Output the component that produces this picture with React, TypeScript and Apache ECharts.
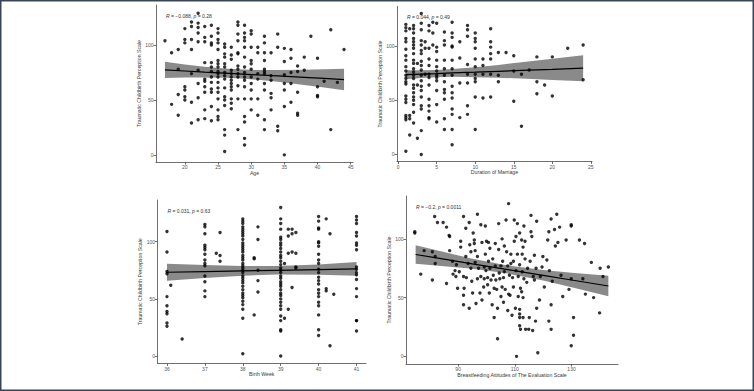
import React, { useEffect, useRef } from "react";
import * as echarts from "echarts";

const FONT = "'Liberation Sans', Arial, Helvetica, sans-serif";
const Y_NAME = "Traumatic Childbirth Perception Scale";
const scoreTicks = [0, 50, 100];

// Age (years) -> scores observed at that age
const ageColumns: [number, number[]][] = [
  [17, [104]],
  [18, [93, 46]],
  [19, [96, 78, 55, 36]],
  [20, [115, 105, 102, 62, 59, 53, 50]],
  [21, [121, 117, 105, 96, 74, 48, 29]],
  [22, [129, 120, 116, 111, 103, 77, 65, 52, 32]],
  [23, [117, 107, 103, 84, 69, 67, 62, 57, 41, 33]],
  [24, [118, 108, 102, 100, 84, 80, 76, 71, 66, 60, 57, 44, 31]],
  [25, [115, 111, 105, 102, 96, 86, 83, 80, 76, 74, 71, 66, 61, 57, 51, 41, 35, 32]],
  [26, [101, 98, 92, 89, 83, 80, 75, 72, 69, 61, 53, 50, 45, 23, 18, 3]],
  [27, [98, 91, 87, 77, 74, 71, 68, 65, 62, 59, 51, 47, 42]],
  [28, [121, 118, 110, 104, 93, 92, 81, 78, 74, 71, 63, 51, 23]],
  [29, [118, 111, 107, 104, 98, 89, 80, 75, 71, 68, 62, 51, 35, 30, 15, 9]],
  [30, [113, 110, 98, 86, 83, 78, 71, 65, 59, 51, 41]],
  [31, [98, 93, 74, 69, 51, 36]],
  [32, [108, 102, 93, 86, 78, 76, 74, 65, 59, 32, 23]],
  [33, [93, 72, 68, 56, 52, 41]],
  [34, [110, 98, 26, 22]],
  [35, [97, 85, 73, 65, 59, 44, 0]],
  [36, [96, 88, 75, 65, 48]],
  [37, [81, 76, 57, 38, 36]],
  [38, [89, 77]],
  [39, [108]],
  [40, [88, 62, 54, 53]],
  [41, [67]],
  [42, [114, 23]],
  [43, [66]],
  [44, [96]],
];

// Duration of marriage (years) -> scores
const marriageColumns: [number, number[]][] = [
  [1, [120, 117, 114, 107, 104, 97, 91, 87, 81, 77, 73, 70, 67, 65, 54, 51, 48, 36, 34, 32, 3]],
  [1.5, [116, 36, 33, 18]],
  [2, [119, 116, 112, 107, 104, 101, 98, 93, 87, 84, 79, 76, 73, 70, 64, 61, 57, 53, 50, 46, 39, 29]],
  [2.5, [84, 64, 15]],
  [3, [130, 121, 115, 105, 101, 96, 93, 86, 82, 78, 73, 68, 63, 59, 53, 45, 42, 22, 0]],
  [3.5, [104, 98, 74]],
  [4, [119, 114, 98, 88, 82, 74, 71, 64, 51, 45, 40, 34, 33]],
  [4.5, [122, 112, 101]],
  [5, [121, 99, 95, 87, 81, 77, 73, 71, 68, 59, 46, 30]],
  [6, [113, 105, 101, 87, 79, 73, 67, 60, 57, 51, 33, 23]],
  [7, [122, 112, 108, 100, 99, 87, 79, 73, 63, 57, 52, 42, 37, 23, 9]],
  [8, [104, 89, 66, 34]],
  [9, [119, 115, 109, 83, 74, 66, 45, 37]],
  [10, [112, 107, 104, 98, 88, 81, 74, 70, 67, 53, 23]],
  [11, [88, 82, 74, 52]],
  [12, [116, 104, 99, 93, 88, 74, 53]],
  [13, [94, 73, 67]],
  [14, [94]],
  [15, [91, 77, 49]],
  [16, [74, 26]],
  [17, [78]],
  [18, [90, 67, 56]],
  [19, [64]],
  [20, [90, 54]],
  [22, [98]],
  [24, [101, 69]],
];

// Birth week -> scores
const birthWeekColumns: [number, number[]][] = [
  [36, [109, 91, 74, 72, 52, 44, 39, 37, 29, 26]],
  [36.1, [62]],
  [36.4, [15]],
  [37, [115, 113, 107, 97, 95, 93, 89, 84, 81, 79, 70, 65, 57, 52]],
  [37.3, [90]],
  [37.4, [108, 88, 83]],
  [38, [120, 118, 116, 113, 111, 109, 107, 105, 102, 99, 97, 95, 93, 91, 88, 86, 84, 81, 79, 77, 75, 73, 70, 68, 66, 64, 61, 58, 55, 53, 51, 48, 45, 41, 33, 2]],
  [38.3, [86, 85, 36]],
  [38.4, [113, 102, 75, 66, 56]],
  [39, [130, 120, 116, 111, 104, 102, 99, 97, 94, 91, 88, 86, 83, 80, 77, 75, 73, 70, 68, 65, 63, 61, 58, 55, 53, 50, 47, 44, 41, 35, 31, 23, 22, 0]],
  [39.1, [81, 33]],
  [39.2, [111, 105, 90, 41]],
  [39.3, [111, 107, 91, 60]],
  [39.4, [108, 90, 78, 77]],
  [40, [122, 118, 112, 111, 100, 99, 96, 89, 84, 81, 76, 73, 69, 66, 63, 58, 55, 52, 47, 44, 36, 23, 18]],
  [40.2, [120, 59, 57]],
  [40.3, [107, 9]],
  [40.4, [54]],
  [41, [122, 119, 116, 108, 105, 99, 97, 93, 78, 76, 73, 71, 67, 59, 52, 31, 31, 22]],
];

// Breastfeeding attitude score, childbirth perception score
const breastfeedingPoints: [number, number][] = [
  [74.7, 105], [74.7, 106], [78, 90], [76.8, 70], [80.9, 89], [80.9, 65], [81.7, 119], [82.7, 114],
  [81.9, 79], [81.9, 85], [84.7, 114], [85.9, 110], [85.9, 62], [86.8, 103], [87, 102], [87, 90],
  [88, 81], [88.2, 70], [88.9, 73], [89.2, 68], [89.4, 78], [89.8, 58], [90.4, 72], [90.9, 98],
  [90.9, 93], [91.9, 119], [91.9, 68], [92.1, 58], [91.9, 52], [91.9, 44], [92.7, 85], [92.7, 109],
  [92.9, 67], [93.5, 79], [93.9, 114], [93.9, 41], [94.1, 95], [94.5, 89], [94.5, 75], [94.8, 64],
  [95.1, 54], [95.3, 105], [95.7, 99], [95.7, 96], [96, 90], [96, 80], [96.3, 45], [96.8, 121],
  [96.8, 85], [96.8, 66], [97.2, 75], [97.7, 54], [98, 112], [98, 68], [98.4, 97], [98.4, 48],
  [99, 59], [99.2, 76], [99.2, 66], [99.6, 111], [99.6, 87], [99.8, 73], [100, 98], [100.4, 67],
  [100.4, 61], [100.7, 81], [100.7, 97], [101, 54], [101.2, 92], [101.2, 75], [101.6, 65], [102, 44],
  [102.2, 83], [102.4, 69], [102.7, 33], [102.7, 58], [103.1, 96], [103.1, 77], [103.3, 65], [103.6, 57],
  [103.9, 15], [103.9, 41], [104.3, 113], [104.3, 91], [104.5, 71], [104.7, 66], [105.1, 51], [105.1, 77],
  [105.5, 100], [105.5, 59], [105.7, 81], [106, 67], [106, 46], [106.3, 94], [106.3, 72], [106.6, 57],
  [106.9, 116], [107.1, 89], [107.5, 39], [107.5, 77], [107.8, 53], [107.8, 130], [108.1, 69], [108.3, 52],
  [108.6, 79], [108.6, 87], [109, 35], [109.2, 67], [109.5, 59], [109.5, 81], [109.8, 116], [109.8, 98],
  [110.2, 41], [110.4, 102], [110.4, 73], [110.6, 0], [110.9, 113], [110.9, 87], [111.2, 51], [111.2, 68],
  [111.7, 105], [111.7, 78], [111.7, 40], [111.7, 36], [111.7, 33], [111.7, 26], [112, 23], [112, 58],
  [112.4, 55], [112.4, 99], [112.6, 87], [112.6, 72], [112.9, 93], [112.9, 50], [112.9, 33], [113.2, 111],
  [113.2, 66], [113.6, 98], [113.6, 83], [113.8, 23], [114.2, 63], [114.5, 75], [114.9, 23], [115.1, 33],
  [115.4, 81], [115.7, 106], [115.7, 120], [116, 102], [116.3, 22], [116.5, 68], [116.9, 86], [116.9, 65],
  [117.3, 30], [117.5, 75], [117.7, 41], [117.7, 115], [118.1, 3], [118.7, 48], [119, 68], [119.6, 76],
  [119.9, 85], [120.4, 59], [121.3, 82], [121.6, 99], [122, 106], [122, 30], [122.2, 73], [122.8, 117],
  [122.8, 23], [122.8, 44], [123.2, 64], [124, 108], [124.3, 94], [124.8, 121], [125.2, 97], [125.8, 110],
  [126.3, 69], [126.9, 51], [128.1, 99], [129.1, 57], [129.9, 112], [129.9, 111], [129.9, 9], [130.7, 18],
  [130.7, 33], [129.9, 66], [132.8, 99], [134, 66], [134.6, 96], [134.9, 53], [137, 80], [137.8, 50],
  [139.9, 37], [140.1, 75], [141.1, 68], [143, 76],
];

// Linear fits with 95% confidence bands
const ageFitX = [17, 20, 23, 26, 28, 31, 34, 38, 41, 44];
const ageFitY = [77.4, 76.4, 75.4, 74.5, 73.8, 72.8, 71.9, 70.6, 69.6, 68.6];
const ageFitLow = [70.1, 70.4, 70.5, 70.3, 69.8, 68.4, 66.7, 63.7, 61.3, 58.8];
const ageFitHigh = [84.8, 82.4, 80.3, 78.7, 77.9, 77.2, 77.2, 77.5, 77.9, 78.4];

const marriageFitX = [1, 3, 5, 7, 10, 13, 16, 20, 24];
const marriageFitY = [73.6, 74.1, 74.6, 75.2, 75.9, 76.7, 77.5, 78.5, 79.6];
const marriageFitLow = [69.4, 70.5, 71.2, 71.6, 71.3, 70.8, 70.0, 68.8, 67.6];
const marriageFitHigh = [77.8, 77.7, 78.0, 78.8, 80.5, 82.6, 85.0, 88.2, 91.6];

const birthWeekFitX = [36, 37, 38, 38.9, 40, 41];
const birthWeekFitY = [73.3, 73.9, 74.5, 75.0, 75.6, 76.2];
const birthWeekFitLow = [65.8, 68.2, 70.3, 71.3, 71.1, 70.2];
const birthWeekFitHigh = [80.8, 79.6, 78.7, 78.7, 80.1, 82.2];

const breastFitX = [75, 85, 95, 107, 120, 130, 143];
const breastFitY = [86.7, 82.8, 78.8, 74.1, 69.0, 65.0, 59.9];
const breastFitLow = [78.8, 76.8, 74.5, 70.7, 64.5, 58.8, 51.2];
const breastFitHigh = [94.6, 88.8, 83.1, 77.5, 73.5, 71.2, 68.6];

// Tick labels
const ageTicks = [20, 25, 30, 35, 40, 45];
const marriageTicks = [0, 5, 10, 15, 20, 25];
const birthWeekTicks = [36, 37, 38, 39, 40, 41];
const breastTicks = [90, 110, 130];

// Correlation results: [R, p]
const ageStat = ["\u22120.088", "0.28"];
const marriageStat = ["0.044", "0.49"];
const birthWeekStat = ["0.031", "0.63"];
const breastStat = ["\u22120.2", "0.0011"];

const flatten = (cols: [number, number[]][]): [number, number][] =>
  cols.flatMap(([x, ys]) => ys.map((y) => [x, y] as [number, number]));

type Panel = {
  grid: { left: number; top: number; width: number; height: number };
  xMin: number;
  xMax: number;
  xTicks: number[];
  xName: string;
  points: [number, number][];
  fitX: number[];
  fitY: number[];
  fitLow: number[];
  fitHigh: number[];
  stat: string[];
};

const panels: Panel[] = [
  {
    grid: { left: 156, top: 5, width: 197, height: 157 },
    xMin: 15.65, xMax: 45.35, xTicks: ageTicks, xName: "Age",
    points: flatten(ageColumns),
    fitX: ageFitX, fitY: ageFitY, fitLow: ageFitLow, fitHigh: ageFitHigh,
    stat: ageStat,
  },
  {
    grid: { left: 397, top: 6.5, width: 195, height: 155 },
    xMin: -0.15, xMax: 25.15, xTicks: marriageTicks, xName: "Duration of Marriage",
    points: flatten(marriageColumns),
    fitX: marriageFitX, fitY: marriageFitY, fitLow: marriageFitLow, fitHigh: marriageFitHigh,
    stat: marriageStat,
  },
  {
    grid: { left: 157.5, top: 200, width: 208.5, height: 163.5 },
    xMin: 35.75, xMax: 41.25, xTicks: birthWeekTicks, xName: "Birth Week",
    points: flatten(birthWeekColumns),
    fitX: birthWeekFitX, fitY: birthWeekFitY, fitLow: birthWeekFitLow, fitHigh: birthWeekFitHigh,
    stat: birthWeekStat,
  },
  {
    grid: { left: 406, top: 196, width: 212, height: 168 },
    xMin: 71.6, xMax: 146.4, xTicks: breastTicks, xName: "Breastfeeding Attitudes of The Evaluation Scale",
    points: breastfeedingPoints,
    fitX: breastFitX, fitY: breastFitY, fitLow: breastFitLow, fitHigh: breastFitHigh,
    stat: breastStat,
  },
];

const AXIS_COLOR = "#4a4a4a";
const LABEL_COLOR = "#555555";
const NAME_COLOR = "#3a3a3a";

function axisCommon(ticks: number[]) {
  return {
    type: "value" as const,
    splitLine: { show: false },
    axisLine: { show: true, onZero: false, lineStyle: { color: AXIS_COLOR, width: 0.8 } },
    axisTick: { show: true, length: 2.5, lineStyle: { color: AXIS_COLOR, width: 0.8 }, customValues: ticks },
    axisLabel: { fontSize: 5, color: LABEL_COLOR, margin: 2.5, fontFamily: FONT, customValues: ticks },
    nameTextStyle: { fontSize: 5.2, color: NAME_COLOR, fontFamily: FONT },
  };
}

export default function App() {
  const ref = useRef<HTMLDivElement>(null);

  useEffect(() => {
    if (!ref.current) return;
    const chart = echarts.init(ref.current, undefined, { renderer: "svg" });

    const series: any[] = [];
    panels.forEach((p, i) => {
      series.push({
        type: "scatter",
        xAxisIndex: i,
        yAxisIndex: i,
        data: p.points,
        symbol: "circle",
        symbolSize: 3.4,
        itemStyle: { color: "#000000" },
        silent: true,
      });
      series.push({
        type: "custom",
        xAxisIndex: i,
        yAxisIndex: i,
        data: [[p.fitX[0], p.fitY[0]]],
        silent: true,
        renderItem: (_params: any, api: any) => {
          const pts: number[][] = [];
          for (let k = 0; k < p.fitX.length; k++) pts.push(api.coord([p.fitX[k], p.fitHigh[k]]));
          for (let k = p.fitX.length - 1; k >= 0; k--) pts.push(api.coord([p.fitX[k], p.fitLow[k]]));
          return {
            type: "polygon",
            shape: { points: pts },
            style: { fill: "rgba(0,0,0,0.46)" },
          };
        },
      });
      series.push({
        type: "line",
        xAxisIndex: i,
        yAxisIndex: i,
        data: p.fitX.map((x, k) => [x, p.fitY[k]]),
        showSymbol: false,
        symbol: "none",
        lineStyle: { color: "#000000", width: 1.2 },
        silent: true,
      });
    });

    const statTexts = panels.map((p) => ({
      type: "text",
      x: p.grid.left + 10,
      y: p.grid.top + 10.5,
      silent: true,
      style: {
        text: `{i|R} = ${p.stat[0]}, {i|p} = ${p.stat[1]}`,
        fontSize: 5,
        fontFamily: FONT,
        fill: "#333333",
        verticalAlign: "middle",
        rich: { i: { fontStyle: "italic", fontSize: 5, fontFamily: FONT, fill: "#333333" } },
      },
    }));

    chart.setOption({
      animation: false,
      backgroundColor: "#ffffff",
      grid: panels.map((p) => ({ ...p.grid, containLabel: false })),
      xAxis: panels.map((p, i) => ({
        ...axisCommon(p.xTicks),
        gridIndex: i,
        min: p.xMin,
        max: p.xMax,
        name: p.xName,
        nameLocation: "middle",
        nameGap: 8,
      })),
      yAxis: panels.map((_p, i) => ({
        ...axisCommon(scoreTicks),
        gridIndex: i,
        min: -6.5,
        max: 136.5,
        name: Y_NAME,
        nameLocation: "middle",
        nameRotate: 90,
        nameGap: 12,
      })),
      series,
      graphic: [
        {
          type: "rect",
          silent: true,
          shape: { x: 0.75, y: 0.75, width: 752.5, height: 389.5 },
          style: { fill: "none", stroke: "#3a4457", lineWidth: 1.5 },
        },
        ...statTexts,
      ],
    });

    return () => chart.dispose();
  }, []);

  return (
    <div
      ref={ref}
      style={{ position: "absolute", left: 0, top: 0, width: 754, height: 391 }}
    />
  );
}
